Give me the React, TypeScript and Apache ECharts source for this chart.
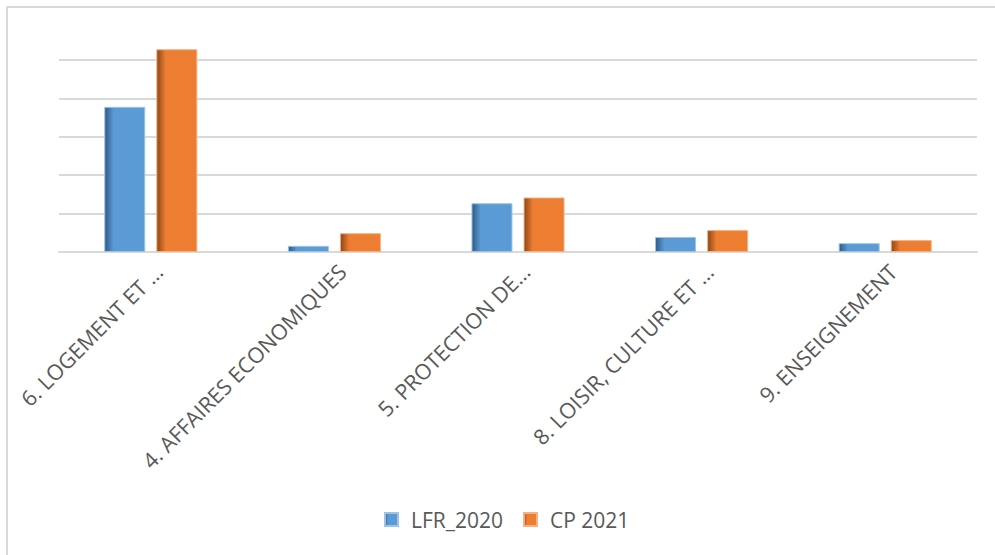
import React, { useEffect, useRef } from "react";
import * as echarts from "echarts";

const categories = [
  "6. LOGEMENT ET …",
  "4. AFFAIRES ECONOMIQUES",
  "5. PROTECTION DE…",
  "8. LOISIR, CULTURE ET …",
  "9. ENSEIGNEMENT",
];
const lfr2020 = [3.78, 0.16, 1.27, 0.39, 0.23];
const cp2021 = [5.28, 0.49, 1.42, 0.57, 0.31];
const seriesNames = ["LFR_2020", "CP 2021"];

const hGrad = (dark: string, base: string) =>
  new echarts.graphic.LinearGradient(0, 0, 1, 0, [
    { offset: 0, color: dark },
    { offset: 0.22, color: base },
    { offset: 1, color: base },
  ]);

export default function App() {
  const ref = useRef<HTMLDivElement>(null);
  useEffect(() => {
    if (!ref.current) return;
    const chart = echarts.init(ref.current, undefined, { renderer: "svg" });
    chart.setOption({
      animation: false,
      backgroundColor: "#ffffff",
      graphic: [
        {
          type: "rect",
          shape: { x: 7, y: 7, width: 1000, height: 600 },
          style: { fill: "none", stroke: "#d9d9d9", lineWidth: 2 },
          silent: true,
        },
      ],
      grid: { left: 59, right: 18, top: 60, bottom: 303, containLabel: false },
      legend: {
        bottom: 20,
        left: 379,
        itemWidth: 13,
        itemHeight: 13,
        itemGap: 20,
        icon: "rect",
        textStyle: {
          color: "#595959",
          fontSize: 21,
          fontFamily: "Open Sans",
          padding: [0, 0, 0, 8],
        },
        data: seriesNames,
      },
      xAxis: {
        type: "category",
        data: categories,
        axisLine: { show: true, lineStyle: { color: "#d9d9d9", width: 2 } },
        axisTick: { show: false },
        axisLabel: {
          rotate: 45,
          interval: 0,
          margin: 8,
          color: "#595959",
          fontSize: 21.5,
          fontFamily: "Open Sans",
          verticalAlign: "top",
        },
      },
      yAxis: {
        type: "value",
        min: 0,
        max: 5,
        interval: 1,
        axisLabel: { show: false },
        axisLine: { show: false },
        axisTick: { show: false },
        splitLine: { lineStyle: { color: "#d9d9d9", width: 2 } },
      },
      series: [
        {
          name: seriesNames[0],
          type: "bar",
          data: lfr2020,
          barWidth: 41,
          barGap: "27%",
          clip: false,
          itemStyle: {
            color: hGrad("#2e5a84", "#5b9bd5"),
            borderColor: "#9dc3e6",
            borderWidth: 1,
          },
        },
        {
          name: seriesNames[1],
          type: "bar",
          data: cp2021,
          barWidth: 41,
          barGap: "27%",
          clip: false,
          itemStyle: {
            color: hGrad("#8a4716", "#ed7d31"),
            borderColor: "#f4b183",
            borderWidth: 1,
          },
        },
      ],
    });
    return () => chart.dispose();
  }, []);
  return (
    <div
      ref={ref}
      style={{ position: "fixed", left: 0, top: 0, width: 995, height: 555 }}
    />
  );
}
